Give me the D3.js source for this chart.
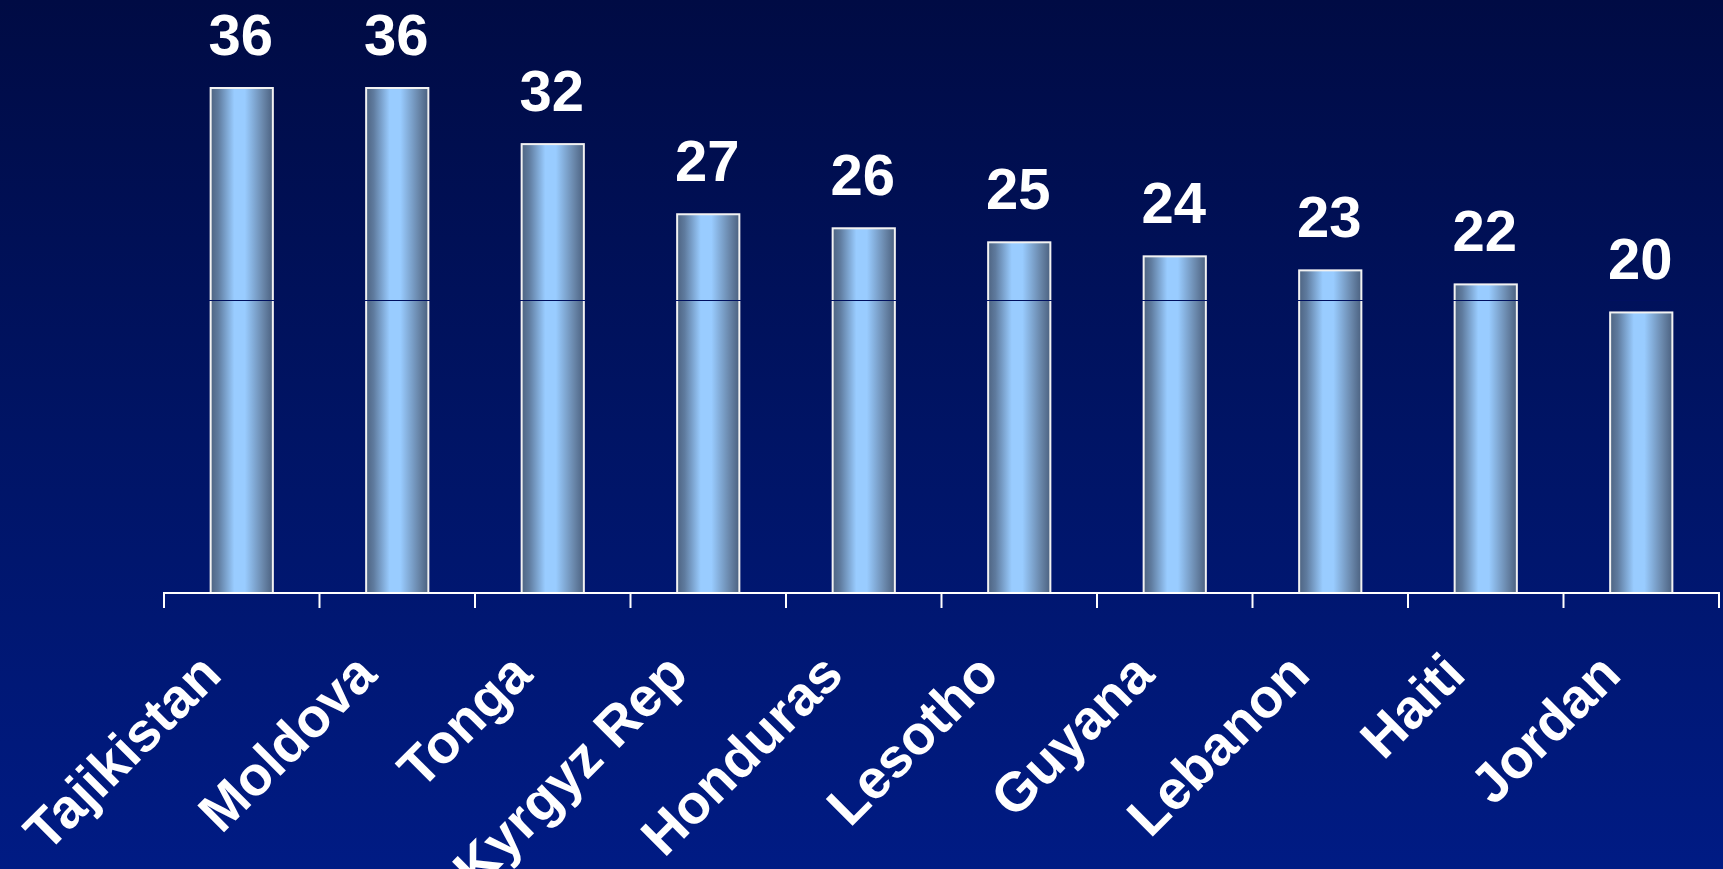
<!DOCTYPE html>
<html>
<head>
<meta charset="utf-8">
<script src="https://cdn.jsdelivr.net/npm/d3@7/dist/d3.min.js"></script>
<style>
  html, body { margin: 0; padding: 0; background: #000c47; }
  svg { display: block; }
  text { font-family: "Liberation Sans", Arial, Helvetica, sans-serif; font-weight: bold; fill: #ffffff; }
</style>
</head>
<body>
<svg id="chart" width="1723" height="869"></svg>
<script>
// Countries and their values
const countries = ["Tajikistan", "Moldova", "Tonga", "Kyrgyz Rep", "Honduras",
                   "Lesotho", "Guyana", "Lebanon", "Haiti", "Jordan"];
const values = [36, 36, 32, 27, 26, 25, 24, 23, 22, 20];
// Level of the thin reference line drawn across the bars
const referenceLevel = 20.9;

const W = 1723, H = 869;
const svg = d3.select("#chart");
const defs = svg.append("defs");

// Background: dark navy fading to a brighter blue at the bottom
const bg = defs.append("linearGradient")
  .attr("id", "bg").attr("x1", 0).attr("y1", 0).attr("x2", 0).attr("y2", 1);
bg.append("stop").attr("offset", "0%").attr("stop-color", "#000b44");
bg.append("stop").attr("offset", "50%").attr("stop-color", "#001465");
bg.append("stop").attr("offset", "100%").attr("stop-color", "#001b84");
svg.append("rect").attr("width", W).attr("height", H).attr("fill", "url(#bg)");

// Cylinder-like shading across each bar
const barFill = defs.append("linearGradient")
  .attr("id", "barFill").attr("x1", 0).attr("y1", 0).attr("x2", 1).attr("y2", 0);
[["0%", "#4e6482"], ["12%", "#5f7b9e"], ["38%", "#99ccff"], ["55%", "#99ccff"],
 ["85%", "#6885a8"], ["100%", "#4b6180"]]
  .forEach(([o, c]) => barFill.append("stop").attr("offset", o).attr("stop-color", c));

const x = d3.scaleBand()
  .domain(countries)
  .range([164, 1719])
  .paddingInner(0.6)
  .paddingOuter(0.3);

const y = d3.scaleLinear()
  .domain([0, 36])
  .range([593, 88]);

const data = countries.map((c, i) => ({ country: c, value: values[i] }));

// Bars
svg.append("g").selectAll("rect")
  .data(data)
  .join("rect")
  .attr("x", d => x(d.country))
  .attr("y", d => y(d.value))
  .attr("width", x.bandwidth())
  .attr("height", d => y(0) - y(d.value))
  .attr("fill", "url(#barFill)")
  .attr("stroke", "#f2f2f2")
  .attr("stroke-width", 2);

// Reference line, visible across the bars
svg.append("g").selectAll("line")
  .data(data)
  .join("line")
  .attr("x1", d => x(d.country) - 2)
  .attr("x2", d => x(d.country) + x.bandwidth() + 2)
  .attr("y1", Math.round(y(referenceLevel)) + 0.5)
  .attr("y2", Math.round(y(referenceLevel)) + 0.5)
  .attr("stroke", "#001060")
  .attr("stroke-width", 1.2);

// Value labels above the bars
svg.append("g").selectAll("text")
  .data(data)
  .join("text")
  .attr("x", d => x(d.country) + x.bandwidth() / 2 - 1)
  .attr("y", d => y(d.value) - 33)
  .attr("text-anchor", "middle")
  .style("font-size", "58px")
  .text(d => d.value);

// Category axis with ticks between the categories
const axis = svg.append("g").attr("transform", `translate(0,${y(0)})`);
const step = x.step();
const left = x.range()[0];
const boundaries = d3.range(countries.length + 1).map(i => left + i * step);
axis.append("line")
  .attr("x1", boundaries[0]).attr("x2", boundaries[boundaries.length - 1])
  .attr("y1", 0).attr("y2", 0)
  .attr("stroke", "#ffffff").attr("stroke-width", 2);
axis.selectAll("line.tick")
  .data(boundaries)
  .join("line")
  .attr("class", "tick")
  .attr("x1", d => d).attr("x2", d => d)
  .attr("y1", -1).attr("y2", 15)
  .attr("stroke", "#ffffff").attr("stroke-width", 2);

// Rotated country names
svg.append("g").selectAll("text")
  .data(countries)
  .join("text")
  .attr("transform", c => `translate(${x(c) + x.bandwidth() / 2 - 18},677) rotate(-45)`)
  .attr("text-anchor", "end")
  .style("font-size", "55px")
  .text(c => c);
</script>
</body>
</html>
